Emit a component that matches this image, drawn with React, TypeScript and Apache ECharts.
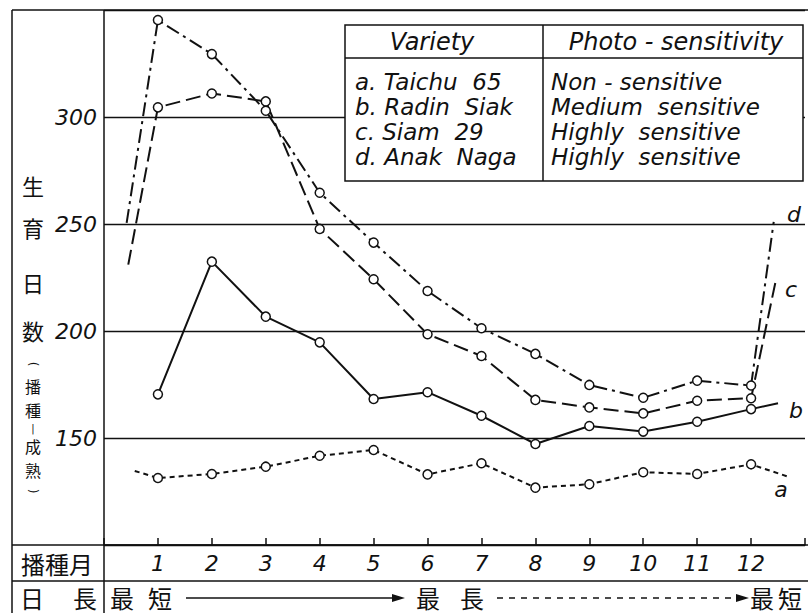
import React, { useEffect, useRef } from "react";
import * as echarts from "echarts";

// ---- data ----
const months = [1, 2, 3, 4, 5, 6, 7, 8, 9, 10, 11, 12];
const yTicks = [150, 200, 250, 300];

// a. Taichu 65 (non-sensitive)
const aDays = [131.3, 133.2, 136.6, 141.7, 144.4, 133.0, 138.2, 126.8, 128.4, 134.0, 133.2, 137.7];
const aHead = [0.57, 134.6];
const aTail = [12.7, 131.8];

// b. Radin Siak (medium sensitive)
const bDays = [170.4, 232.4, 206.7, 194.7, 168.2, 171.4, 160.4, 147.2, 155.6, 153.0, 157.6, 163.5];
const bTail = [12.5, 166.2];

// c. Siam 29 (highly sensitive)
const cDays = [304.5, 311.0, 307.3, 247.7, 224.2, 198.5, 188.3, 167.8, 164.3, 161.5, 167.4, 168.6];
const cHead = [0.45, 231.0];
const cTail = [12.46, 223.8];

// d. Anak Naga (highly sensitive)
const dDays = [345.3, 329.4, 302.9, 264.6, 241.3, 218.7, 201.3, 189.3, 174.8, 168.8, 176.8, 174.5];
const dHead = [0.42, 250.5];
const dTail = [12.42, 251.0];

const legendRows = [
  ["a. Taichu  65", "Non - sensitive"],
  ["b. Radin  Siak", "Medium  sensitive"],
  ["c. Siam  29", "Highly  sensitive"],
  ["d. Anak  Naga", "Highly  sensitive"],
];

const INK = "#111";
const LATIN = "DejaVu Sans";
const CJK = "Noto Sans CJK JP";

function build(head: number[] | null, vals: number[], tail: number[] | null) {
  const out: any[] = [];
  if (head) out.push({ value: head, symbol: "none" });
  vals.forEach((v, i) => out.push({ value: [months[i], v] }));
  if (tail) out.push({ value: tail, symbol: "none" });
  return out;
}

function lineSeries(name: string, data: any[], dash: any) {
  return {
    name,
    type: "line",
    data,
    symbol: "circle",
    symbolSize: 9,
    itemStyle: { color: "#fff", borderColor: INK, borderWidth: 1.5 },
    lineStyle: { color: INK, width: 2, type: dash },
    z: 3,
  };
}

function seg(x1: number, y1: number, x2: number, y2: number, w = 1.5, dash?: number[]) {
  return {
    type: "line",
    z: 50,
    shape: { x1, y1, x2, y2 },
    style: { stroke: INK, lineWidth: w, lineDash: dash },
  };
}

function txt(x: number, y: number, text: string, size: number, font: string, italic = false, align = "center") {
  return {
    type: "text",
    z: 60,
    x,
    y,
    style: {
      text,
      fill: INK,
      font: `${italic ? "italic " : ""}${size}px "${font}"`,
      align,
      verticalAlign: "middle",
    },
  };
}

export default function App() {
  const ref = useRef<HTMLDivElement>(null);

  useEffect(() => {
    if (!ref.current) return;
    const chart = echarts.init(ref.current, undefined, { renderer: "svg" });

    // legend table
    const L = 345, T = 25, R = 803, B = 181, H = 58, D = 543;
    const legend: any[] = [
      { type: "rect", z: 80, shape: { x: L, y: T, width: R - L, height: B - T }, style: { fill: "#fff", stroke: INK, lineWidth: 1.5 } },
      { ...seg(L, H, R, H), z: 81 },
      { ...seg(D, T, D, B), z: 81 },
      { ...txt(432, 42, "Variety", 24, LATIN, true), z: 82 },
      { ...txt(676, 42, "Photo - sensitivity", 24, LATIN, true), z: 82 },
    ];
    legendRows.forEach((r, i) => {
      const y = 82 + i * 25;
      legend.push({ ...txt(355, y, r[0], 23, LATIN, true, "left"), z: 82 });
      legend.push({ ...txt(551, y, r[1], 23, LATIN, true, "left"), z: 82 });
    });

    // frame and bottom table
    const frame: any[] = [
      seg(12, 10, 808, 10),
      seg(12, 10, 12, 613),
      seg(104, 10, 104, 613),
      seg(12, 545, 808, 545),
      seg(12, 581, 808, 581),
    ];

    const paren = (y: number, ch: string) => ({
      type: "text",
      z: 60,
      x: 33,
      y,
      rotation: -Math.PI / 2,
      style: { text: ch, fill: INK, font: `12px "${LATIN}"`, align: "center", verticalAlign: "middle" },
    });

    // y-axis title (vertical)
    const yTitle: any[] = [
      txt(33, 185, "生", 22, CJK),
      txt(33, 227, "育", 22, CJK),
      txt(33, 282, "日", 22, CJK),
      txt(33, 330, "数", 22, CJK),
      paren(364, "("),
      txt(33, 385.5, "播", 16, CJK),
      txt(33, 409.5, "種", 16, CJK),
      txt(33, 428, "|", 10, LATIN),
      txt(33, 446, "成", 16, CJK),
      txt(33, 469.5, "熟", 16, CJK),
      paren(491, ")"),
    ];

    const bottom: any[] = [
      txt(57, 563, "播種月", 24, CJK),
      txt(32, 597, "日", 24, CJK),
      txt(85, 597, "長", 24, CJK),
      txt(122, 597, "最", 24, CJK),
      txt(160, 597, "短", 24, CJK),
      seg(186, 598, 398, 598, 1.3),
      { type: "polygon", z: 50, shape: { points: [[392, 594], [405, 598], [392, 602]] }, style: { fill: INK } },
      txt(428, 597, "最", 24, CJK),
      txt(472, 597, "長", 24, CJK),
      seg(497, 598, 742, 598, 1.3, [6, 6]),
      { type: "polygon", z: 50, shape: { points: [[736, 594], [749, 598], [736, 602]] }, style: { fill: INK } },
      txt(762, 597, "最", 24, CJK),
      txt(790, 597, "短", 24, CJK),
    ];

    const tags: any[] = [
      txt(781, 489, "a", 22, LATIN, true),
      txt(796, 410, "b", 22, LATIN, true),
      txt(791, 289, "c", 22, LATIN, true),
      txt(794, 214, "d", 22, LATIN, true),
    ];

    chart.setOption({
      animation: false,
      backgroundColor: "#fff",
      grid: { left: 104, right: 0, top: 10, bottom: 68, containLabel: false },
      xAxis: {
        type: "value",
        min: 0,
        max: 13,
        interval: 1,
        axisLine: { show: true, lineStyle: { color: INK, width: 1.5 } },
        axisTick: { show: true, inside: true, length: 7, lineStyle: { color: INK, width: 1.5 } },
        axisLabel: {
          margin: 7,
          color: INK,
          fontSize: 22,
          fontStyle: "italic",
          fontFamily: LATIN,
          formatter: (v: number) => (months.indexOf(v) >= 0 ? String(v) : ""),
        },
        splitLine: { show: false },
      },
      yAxis: {
        type: "value",
        min: 100,
        max: 350,
        interval: 50,
        axisLine: { show: false },
        axisTick: { show: false },
        axisLabel: {
          margin: 7,
          color: INK,
          fontSize: 22,
          fontStyle: "italic",
          fontFamily: LATIN,
          formatter: (v: number) => (yTicks.indexOf(v) >= 0 ? String(v) : ""),
        },
        splitLine: { show: true, lineStyle: { color: INK, width: 1.4 } },
      },
      series: [
        lineSeries("a", build(aHead, aDays, aTail), [5, 4]),
        lineSeries("b", build(null, bDays, bTail), "solid"),
        lineSeries("c", build(cHead, cDays, cTail), [15, 6]),
        lineSeries("d", build(dHead, dDays, dTail), [14, 5, 3, 5]),
      ],
      graphic: [...frame, ...yTitle, ...bottom, ...tags, ...legend],
    });

    return () => chart.dispose();
  }, []);

  return (
    <div
      ref={ref}
      style={{ position: "fixed", left: 0, top: 0, width: 808, height: 613, background: "#fff" }}
    />
  );
}
